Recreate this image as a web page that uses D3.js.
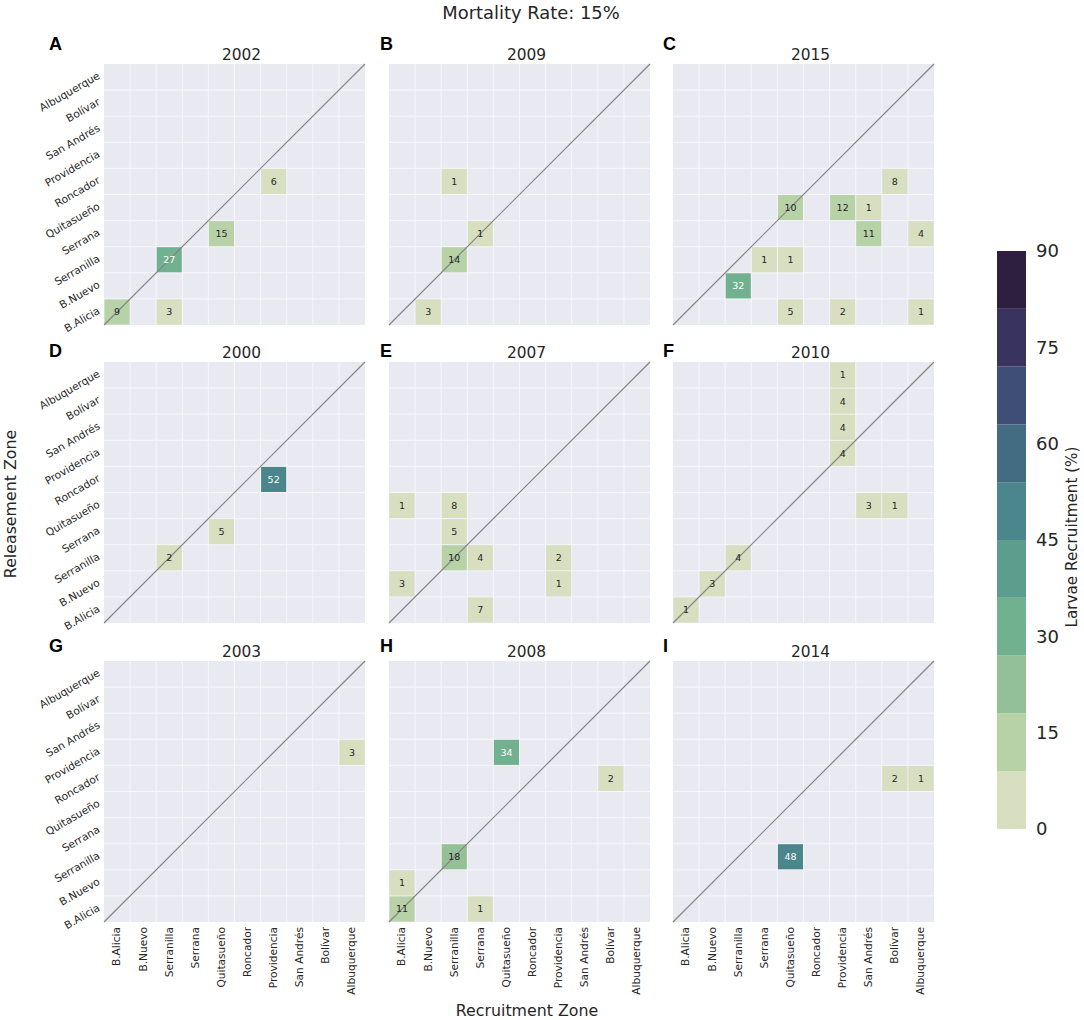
<!DOCTYPE html>
<html>
<head>
<meta charset="utf-8">
<script src="https://cdn.jsdelivr.net/npm/d3@7"></script>
<style>
  html, body { margin: 0; padding: 0; background: #fff; }
  text { font-family: "DejaVu Sans", sans-serif; fill: #262626; }
</style>
</head>
<body>
<div id="container"></div>
<script>
const zones = ['B.Alicia', 'B.Nuevo', 'Serranilla', 'Serrana', 'Quitasueño', 'Roncador', 'Providencia', 'San Andrés', 'Bolívar', 'Albuquerque'];
const years = [2002, 2009, 2015, 2000, 2007, 2010, 2003, 2008, 2014];
const letters = ['A', 'B', 'C', 'D', 'E', 'F', 'G', 'H', 'I'];
const bandColors = ['#d8dfc0', '#b8d2a8', '#94c098', '#71b18f', '#5d9d8e', '#4a868c', '#436b82', '#3f4e76', '#38345f', '#2e1e40'];
const barTicks = [0, 15, 30, 45, 60, 75, 90];

// [recruitment zone, releasement zone, value]
const cells2002 = [['Providencia', 'Roncador', 6], ['Quitasueño', 'Serrana', 15], ['Serranilla', 'Serranilla', 27], ['B.Alicia', 'B.Alicia', 9], ['Serranilla', 'B.Alicia', 3]];
const cells2009 = [['Serranilla', 'Roncador', 1], ['Serrana', 'Serrana', 1], ['Serranilla', 'Serranilla', 14], ['B.Nuevo', 'B.Alicia', 3]];
const cells2015 = [['Bolívar', 'Roncador', 8], ['Quitasueño', 'Quitasueño', 10], ['Providencia', 'Quitasueño', 12], ['San Andrés', 'Quitasueño', 1], ['San Andrés', 'Serrana', 11], ['Albuquerque', 'Serrana', 4], ['Serrana', 'Serranilla', 1], ['Quitasueño', 'Serranilla', 1], ['Serranilla', 'B.Nuevo', 32], ['Quitasueño', 'B.Alicia', 5], ['Providencia', 'B.Alicia', 2], ['Albuquerque', 'B.Alicia', 1]];
const cells2000 = [['Providencia', 'Roncador', 52], ['Quitasueño', 'Serrana', 5], ['Serranilla', 'Serranilla', 2]];
const cells2007 = [['B.Alicia', 'Quitasueño', 1], ['Serranilla', 'Quitasueño', 8], ['Serranilla', 'Serrana', 5], ['Serranilla', 'Serranilla', 10], ['Serrana', 'Serranilla', 4], ['Providencia', 'Serranilla', 2], ['B.Alicia', 'B.Nuevo', 3], ['Providencia', 'B.Nuevo', 1], ['Serrana', 'B.Alicia', 7]];
const cells2010 = [['Providencia', 'Albuquerque', 1], ['Providencia', 'Bolívar', 4], ['Providencia', 'San Andrés', 4], ['Providencia', 'Providencia', 4], ['San Andrés', 'Quitasueño', 3], ['Bolívar', 'Quitasueño', 1], ['Serranilla', 'Serranilla', 4], ['B.Nuevo', 'B.Nuevo', 3], ['B.Alicia', 'B.Alicia', 1]];
const cells2003 = [['Albuquerque', 'Providencia', 3]];
const cells2008 = [['Quitasueño', 'Providencia', 34], ['Bolívar', 'Roncador', 2], ['Serranilla', 'Serranilla', 18], ['B.Alicia', 'B.Nuevo', 1], ['B.Alicia', 'B.Alicia', 11], ['Serrana', 'B.Alicia', 1]];
const cells2014 = [['Bolívar', 'Roncador', 2], ['Albuquerque', 'Roncador', 1], ['Quitasueño', 'Serranilla', 48]];
const panels = [cells2002, cells2009, cells2015, cells2000, cells2007, cells2010, cells2003, cells2008, cells2014];

const W = 1084, H = 1020;
const panelSize = 261;
const colX = [104, 389, 673];
const rowY = [64, 362, 661];
const letterX = [49, 380, 663];
const letterY = [50, 357, 652];

const svg = d3.select('#container').append('svg')
    .attr('width', W)
    .attr('height', H)
    .style('display', 'block');

const x = d3.scaleBand().domain(zones).range([0, panelSize]);
const y = d3.scaleBand().domain(zones).range([panelSize, 0]);
const color = d3.scaleQuantize().domain([0, 90]).range(bandColors);

panels.forEach((cells, i) => {
    const col = i % 3, row = Math.floor(i / 3);
    const g = svg.append('g').attr('transform', `translate(${colX[col]},${rowY[row]})`);

    g.append('rect')
        .attr('width', panelSize)
        .attr('height', panelSize)
        .attr('fill', '#e9e9f2');

    // white gaps between the cells
    g.selectAll('.vgrid')
        .data(zones.slice(1))
        .enter().append('line')
        .attr('x1', d => x(d)).attr('x2', d => x(d))
        .attr('y1', 0).attr('y2', panelSize)
        .attr('stroke', '#f7f7fa').attr('stroke-width', 1);
    g.selectAll('.hgrid')
        .data(zones.slice(0, -1))
        .enter().append('line')
        .attr('y1', d => y(d)).attr('y2', d => y(d))
        .attr('x1', 0).attr('x2', panelSize)
        .attr('stroke', '#f7f7fa').attr('stroke-width', 1);

    g.selectAll('.cell')
        .data(cells)
        .enter().append('rect')
        .attr('x', d => x(d[0]) + 0.5)
        .attr('y', d => y(d[1]) + 0.5)
        .attr('width', x.bandwidth() - 1)
        .attr('height', y.bandwidth() - 1)
        .attr('fill', d => color(d[2]));

    g.append('line')
        .attr('x1', 0).attr('y1', panelSize)
        .attr('x2', panelSize).attr('y2', 0)
        .attr('stroke', '#858585')
        .attr('stroke-width', 1.2);

    g.selectAll('.val')
        .data(cells)
        .enter().append('text')
        .attr('x', d => x(d[0]) + x.bandwidth() / 2)
        .attr('y', d => y(d[1]) + y.bandwidth() / 2)
        .attr('dy', '0.36em')
        .attr('text-anchor', 'middle')
        .attr('font-size', 9.5)
        .style('fill', d => d[2] >= 27 ? '#fff' : '#262626')
        .text(d => d[2]);

    g.append('text')
        .attr('x', panelSize / 2 + 7)
        .attr('y', -4)
        .attr('text-anchor', 'middle')
        .attr('font-size', 15.4)
        .text(years[i]);

    svg.append('text')
        .attr('x', letterX[col])
        .attr('y', letterY[row])
        .attr('font-size', 18)
        .attr('font-weight', 'bold')
        .style('font-family', '"Liberation Sans", sans-serif')
        .style('fill', '#000')
        .text(letters[i]);

    if (col === 0) {
        const ay = g.append('g').call(d3.axisLeft(y).tickSize(0).tickPadding(0));
        ay.select('.domain').remove();
        ay.selectAll('text')
            .attr('font-size', 10.6)
            .attr('font-family', null)
            .attr('transform', 'translate(-5,-2) rotate(-30)');
    }
    if (row === 2) {
        const ax = g.append('g')
            .attr('transform', `translate(0,${panelSize})`)
            .call(d3.axisBottom(x).tickSize(0).tickPadding(0));
        ax.select('.domain').remove();
        ax.selectAll('text')
            .attr('font-size', 10.6)
            .attr('font-family', null)
            .attr('text-anchor', 'end')
            .attr('dy', '0.32em')
            .attr('transform', 'translate(0,5) rotate(-90)');
    }
});

svg.append('text')
    .attr('x', 531).attr('y', 19)
    .attr('text-anchor', 'middle')
    .attr('font-size', 17.9)
    .text('Mortality Rate: 15%');

svg.append('text')
    .attr('x', 527).attr('y', 1016)
    .attr('text-anchor', 'middle')
    .attr('font-size', 15.8)
    .text('Recruitment Zone');

svg.append('text')
    .attr('transform', 'translate(16,504) rotate(-90)')
    .attr('text-anchor', 'middle')
    .attr('font-size', 15.8)
    .text('Releasement Zone');

// colour bar
const bar = svg.append('g').attr('transform', 'translate(997,0)');
const barY = d3.scaleLinear().domain([0, 90]).range([829, 251]);
bar.selectAll('rect')
    .data(bandColors)
    .enter().append('rect')
    .attr('x', 0)
    .attr('width', 29)
    .attr('y', (d, i) => barY((i + 1) * 9))
    .attr('height', (d, i) => barY(i * 9) - barY((i + 1) * 9))
    .attr('fill', d => d);

const barAxis = bar.append('g')
    .attr('transform', 'translate(29,0)')
    .call(d3.axisRight(barY).tickValues(barTicks).tickSize(0).tickPadding(10));
barAxis.select('.domain').remove();
barAxis.selectAll('text')
    .attr('font-size', 18)
    .attr('font-family', null);

svg.append('text')
    .attr('transform', 'translate(1077,537) rotate(-90)')
    .attr('text-anchor', 'middle')
    .attr('font-size', 15.2)
    .text('Larvae Recruitment (%)');
</script>
</body>
</html>
